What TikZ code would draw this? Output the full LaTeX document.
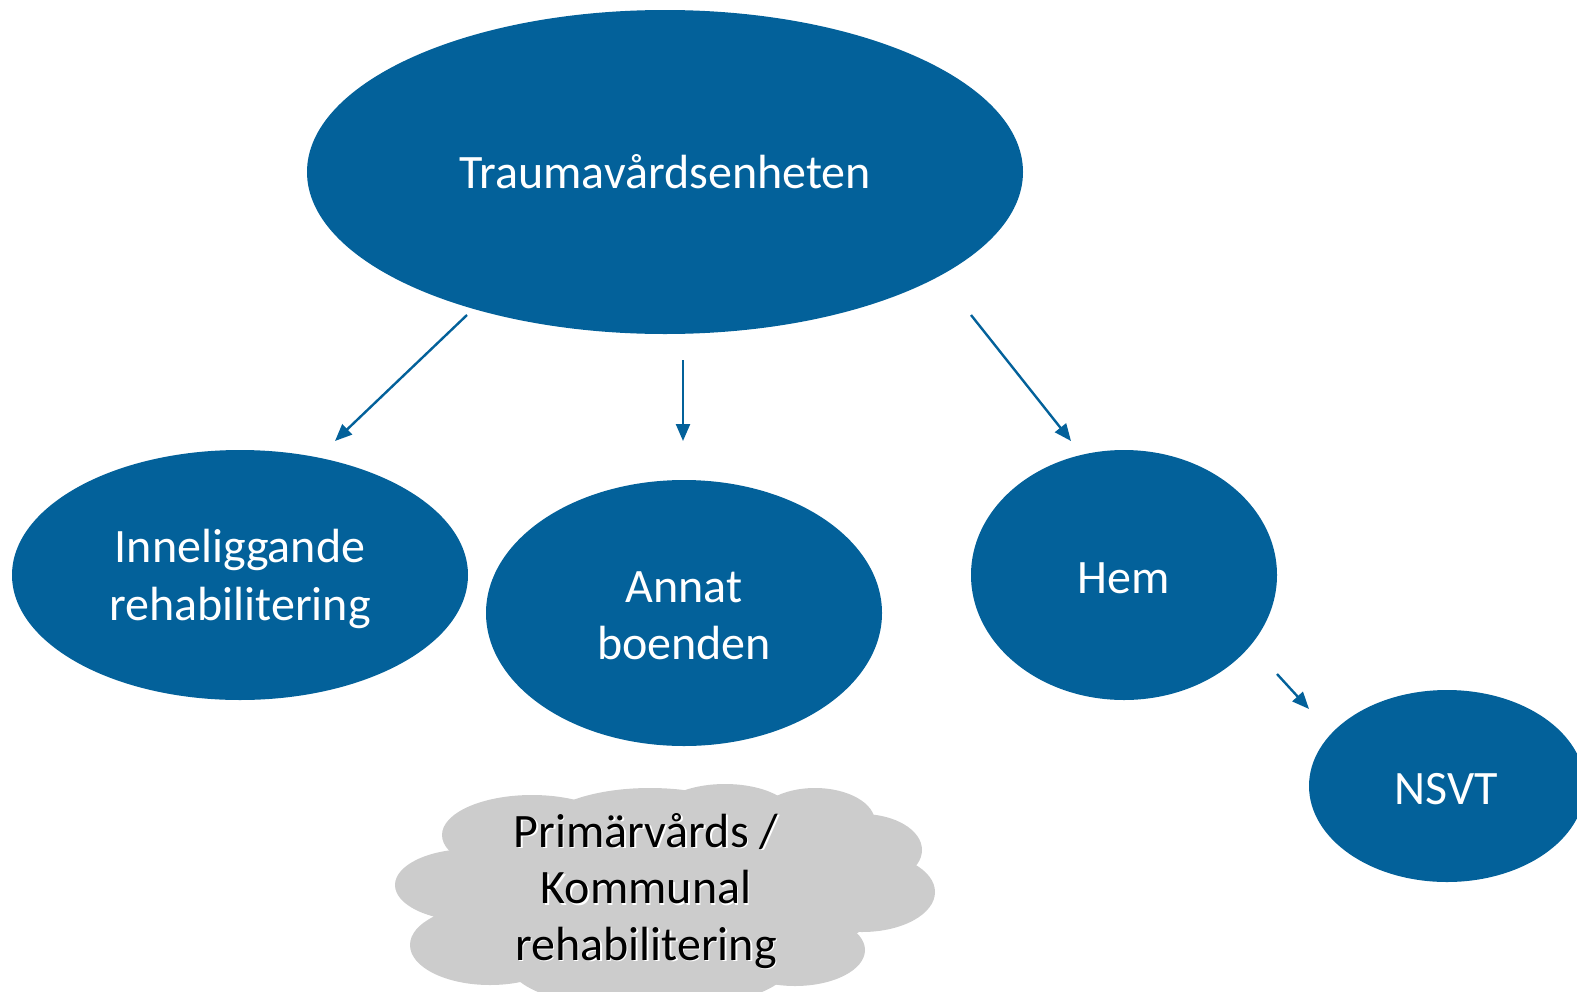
\documentclass[tikz,border=0pt]{standalone}
\usepackage{fontspec}
\setmainfont{Carlito}
\usetikzlibrary{shapes.geometric,arrows.meta}
\definecolor{nodeblue}{RGB}{3,97,154}
\definecolor{cloudgray}{RGB}{204,204,204}
\tikzset{
  blob/.style={ellipse, fill=nodeblue, draw=none, inner sep=0pt, text=white, align=center, font=\fontsize{48}{57.5}\selectfont},
  blobtext/.style={text=white, align=center, font=\fontsize{48}{57.5}\selectfont},
  flow/.style={draw=nodeblue, line width=2.4pt, -{Triangle[length=17pt,width=14pt]}},
  puff/.style={fill=cloudgray, draw=none},
  cloudtext/.style={align=center, font=\fontsize{48}{56.5}\selectfont}
}
\begin{document}
\begin{tikzpicture}[x=1pt,y=-1pt]
\useasboundingbox (0,0) rectangle (1577,991);
\node[blob, minimum width=716pt, minimum height=324pt] (trauma) at (665,172) {Traumavårdsenheten};
\node[blob, minimum width=456pt, minimum height=250pt] (inne) at (240,575) {};
\node[blobtext] (innetext) at (240,579) {Inneliggande\\rehabilitering};
\node[blob, minimum width=396pt, minimum height=266pt] (annat) at (684,613) {};
\node[blobtext] (annattext) at (684,616) {Annat\\boenden};
\node[blob, minimum width=306pt, minimum height=250pt] (hem) at (1124,575) {};
\node[blobtext] (hemtext) at (1124,578) {Hem};
\node[blob, minimum width=276pt, minimum height=192pt] (nsvt) at (1447,786) {};
\node[blobtext] (nsvttext) at (1446,789) {NSVT};
% cloud
\begin{scope}
\clip (0,0) rectangle (1577,991);
\fill[puff] (470,885) ellipse [x radius=75, y radius=36];
\fill[puff] (532,835) ellipse [x radius=90, y radius=40];
\fill[puff] (650,830) ellipse [x radius=110, y radius=42];
\fill[puff] (725,818) ellipse [x radius=70, y radius=34];
\fill[puff] (815,822) ellipse [x radius=60, y radius=34];
\fill[puff] (862,850) ellipse [x radius=60, y radius=36];
\fill[puff] (862,892) ellipse [x radius=73, y radius=40];
\fill[puff] (655,895) ellipse [x radius=230, y radius=80];
\fill[puff] (490,945) ellipse [x radius=80, y radius=40];
\fill[puff] (795,950) ellipse [x radius=70, y radius=36];
\fill[puff] (650,965) ellipse [x radius=140, y radius=45];
\end{scope}
\node[cloudtext, text=white] (cloudshadow) at (647.5,892.5) {Primärvårds /\\Kommunal\\rehabilitering};
\node[cloudtext, text=black] (cloud) at (646,891) {Primärvårds /\\Kommunal\\rehabilitering};
% arrows
\coordinate (a1s) at (467,315); \coordinate (a1e) at (335,441);
\coordinate (a2s) at (683,360); \coordinate (a2e) at (683,441);
\coordinate (a3s) at (971,315); \coordinate (a3e) at (1071,441);
\coordinate (a4s) at (1277,674); \coordinate (a4e) at (1309,709);
\draw[flow] (a1s) -- (a1e);
\draw[flow] (a2s) -- (a2e);
\draw[flow] (a3s) -- (a3e);
\draw[flow] (a4s) -- (a4e);
\end{tikzpicture}
\end{document}
